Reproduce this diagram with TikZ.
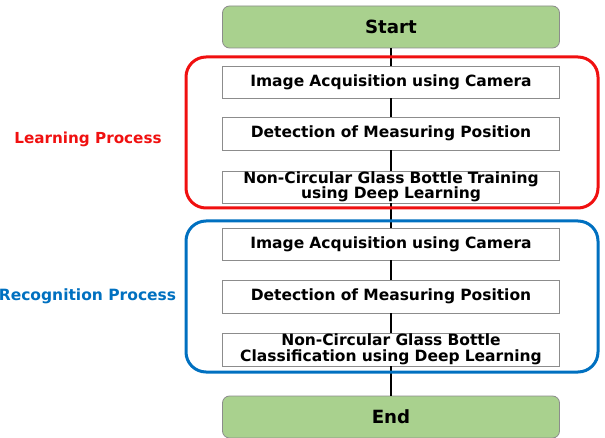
\documentclass[tikz,border=0pt]{standalone}
\usepackage{fontspec}
\setmainfont{DejaVu Sans}
\begin{document}
\begin{tikzpicture}[x=1pt,y=-1pt,
  font=\bfseries\fontsize{15.5}{15.5}\selectfont,
  stepbox/.style={draw=black!45,line width=0.8pt,fill=white,minimum width=337pt,text width=335pt,align=center,inner sep=0pt},
  term/.style={draw=black!45,line width=0.8pt,fill=termgreen,rounded corners=7pt,minimum width=337pt,minimum height=42pt,font=\bfseries\fontsize{18.2}{19}\selectfont},
  link/.style={line width=2.8pt,black}]
\definecolor{termgreen}{HTML}{A9D18E}
\definecolor{lred}{HTML}{F01010}
\definecolor{rblue}{HTML}{0070C0}
\useasboundingbox (0,0) rectangle (605,438);
\node[term] (start) at (391,27) {Start};
\node[term] (end) at (391,417) {End};
\node[stepbox,minimum height=32pt] (a1) at (391,82) {Image Acquisition using Camera};
\node[stepbox,minimum height=33pt] (a2) at (391,133.5) {Detection of Measuring Position};
\node[stepbox,minimum height=32pt] (a3) at (391,187) {Non-Circular Glass Bottle Training\\using Deep Learning};
\node[stepbox,minimum height=32pt] (b1) at (391,244) {Image Acquisition using Camera};
\node[stepbox,minimum height=33pt] (b2) at (391,296.5) {Detection of Measuring Position};
\node[stepbox,minimum height=33pt] (b3) at (391,349.5) {Non-Circular Glass Bottle\\Classification using Deep Learning};
\draw[link] (start) -- (a1);
\draw[link] (a1) -- (a2);
\draw[link] (a2) -- (a3);
\draw[link] (a3) -- (b1);
\draw[link] (b1) -- (b2);
\draw[link] (b2) -- (b3);
\draw[link] (b3) -- (end);
\node[draw=lred,line width=3pt,rounded corners=20pt,minimum width=412pt,minimum height=151pt] (lbox) at (392,132.5) {};
\node[draw=rblue,line width=3pt,rounded corners=20pt,minimum width=412pt,minimum height=151pt] (rbox) at (392,296.5) {};
\node[text=lred,font=\bfseries\fontsize{15.2}{16}\selectfont] (llab) at (88,139) {Learning Process};
\node[text=rblue] (rlab) at (87.5,296) {Recognition Process};
\end{tikzpicture}
\end{document}
